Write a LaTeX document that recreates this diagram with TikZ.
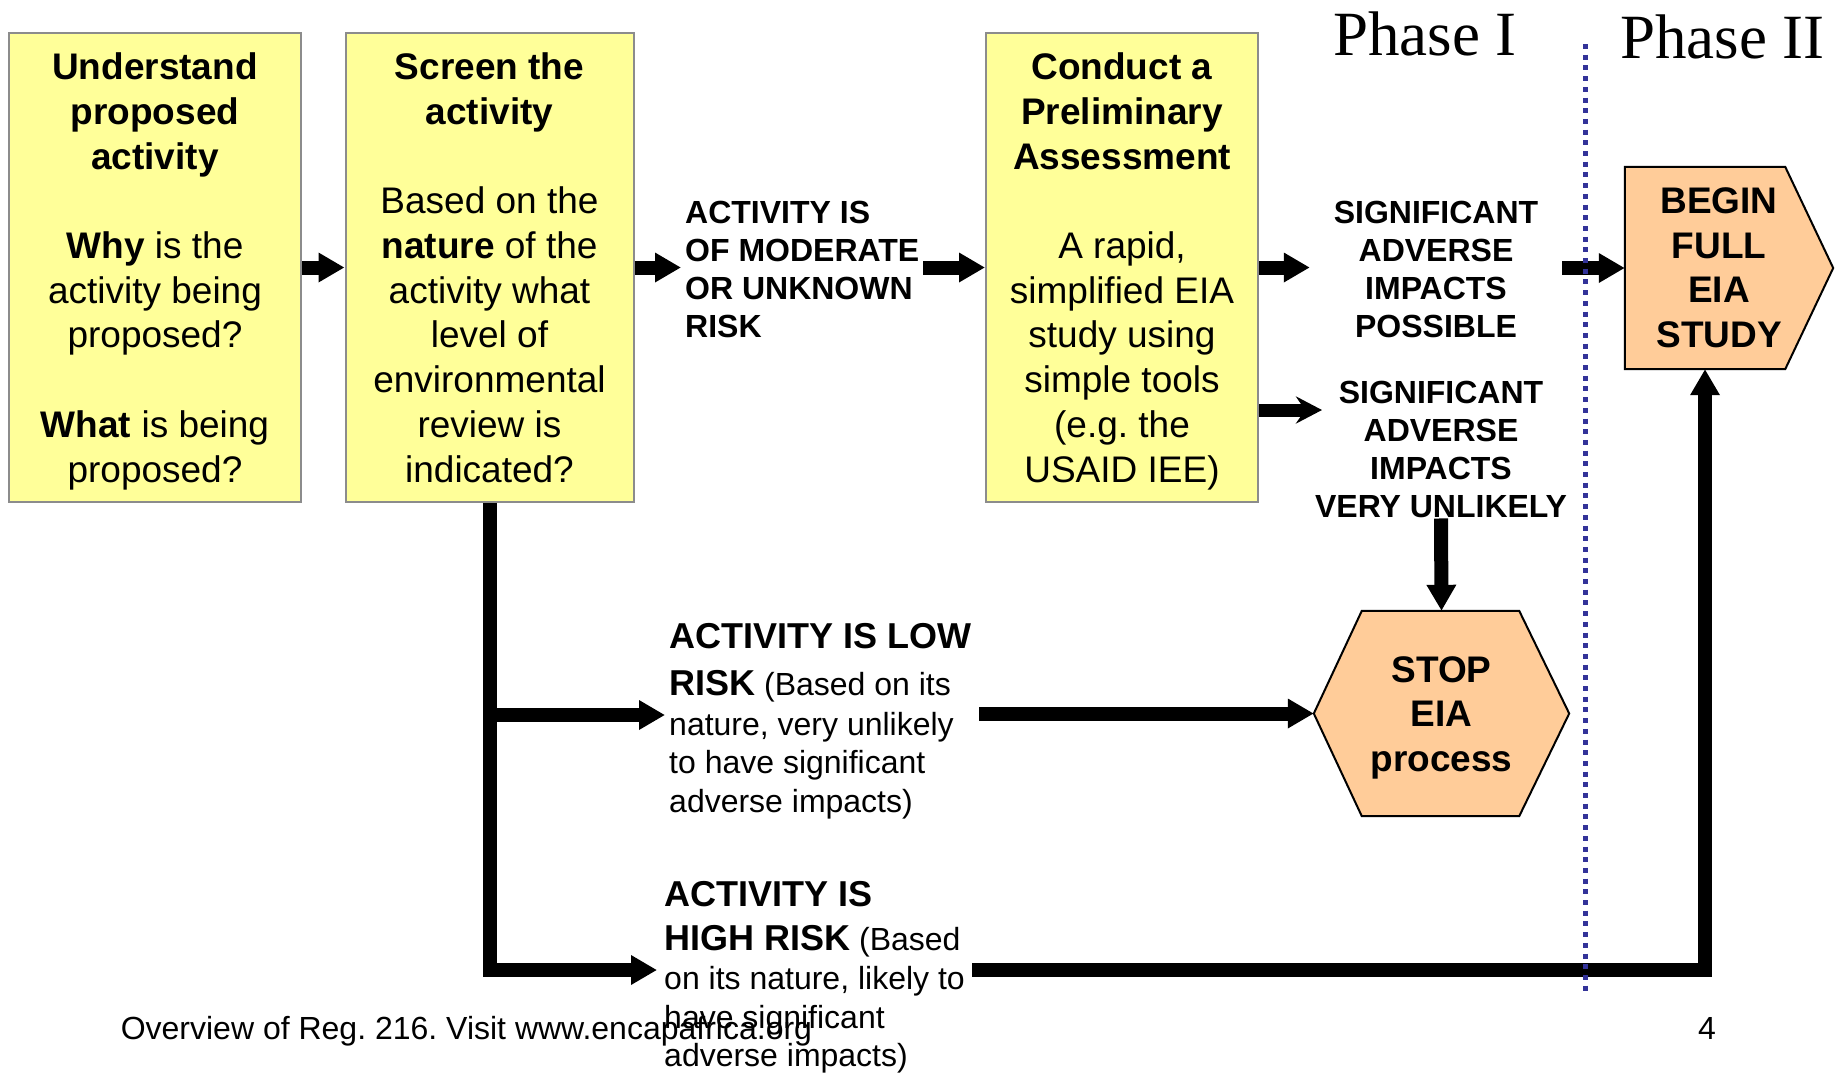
\documentclass[tikz,border=0pt]{standalone}
\usepackage{fontspec}
\setmainfont{Liberation Sans}
\newfontfamily\phasefont{Liberation Serif}
\usetikzlibrary{arrows.meta}
\definecolor{boxyellow}{HTML}{FFFF99}
\definecolor{boxgrey}{HTML}{8C8C8C}
\definecolor{peach}{HTML}{FFCC99}
\definecolor{phaseblue}{HTML}{333399}
\newcommand\setfs[2]{\fontsize{#1}{#2}\selectfont}
\newcommand\riskhead{\setfs{36}{38.5}\bfseries}
\frenchspacing

\begin{document}
\begin{tikzpicture}[x=1pt,y=-1pt,
  stepbox/.style={draw=boxgrey, line width=2pt, fill=boxyellow, inner sep=0pt,
    align=center, minimum height=469pt, text depth=0pt, font=\setfs{37}{44.7}},
  capsbold/.style={inner sep=0pt, font=\setfs{32}{38.3}\bfseries},
  bignote/.style={inner sep=0pt, align=left, anchor=north west, font=\setfs{32}{38.5}},
  shapelabel/.style={inner sep=0pt, align=center, font=\setfs{37}{44.5}\bfseries},
  peachshape/.style={fill=peach, draw=black, line width=2pt, line join=miter},
  fat/.style={line width=14pt, -{Triangle[length=26pt,width=28pt]}},
  slim/.style={line width=13pt, -{Stealth[length=26pt,width=27pt,inset=9pt]}},
  phase/.style={inner sep=0pt, anchor=base west, font=\phasefont\fontsize{63}{70}\selectfont},
  foot/.style={inner sep=0pt, anchor=base west, font=\setfs{32}{38}},
]
\useasboundingbox (0,0) rectangle (1836,1072);

% ---- the three yellow step boxes
\node[stepbox, minimum width=292pt] (understand) at (155,267.5)
  {\textbf{Understand}\\\textbf{proposed}\\\textbf{activity}\\[44.7pt]%
   \textbf{Why} is the\\activity being\\proposed?\\[44.7pt]%
   \textbf{What} is being\\proposed?};
\node[stepbox, minimum width=288pt] (screen) at (489.5,267.5)
  {\textbf{Screen the}\\\textbf{activity}\\[44.7pt]%
   Based on the\\\textbf{nature} of the\\activity what\\level of\\environmental\\review is\\indicated?};
\node[stepbox, minimum width=272pt] (assess) at (1122,267.5)
  {\textbf{Conduct a}\\\textbf{Preliminary}\\\textbf{Assessment}\\[44.7pt]%
   A rapid,\\simplified EIA\\study using\\simple tools\\(e.g. the\\USAID IEE)};

% ---- outcome shapes (pentagon and hexagon)
\node[minimum width=160pt, minimum height=202pt, inner sep=0pt] (begin) at (1705,268) {};
\filldraw[peachshape] (begin.north west) -- (begin.north east) -- ([xshift=48pt]begin.east)
  -- (begin.south east) -- (begin.south west) -- cycle;
\node[shapelabel] (begintext) at ([xshift=14pt]begin.center) {BEGIN\\FULL\\EIA\\STUDY};

\node[minimum width=255pt, minimum height=205pt, inner sep=0pt] (stop) at (1441.5,713.5) {};
\filldraw[peachshape] (stop.west) -- ([xshift=48pt]stop.north west) -- ([xshift=-50pt]stop.north east)
  -- (stop.east) -- ([xshift=-50pt]stop.south east) -- ([xshift=48pt]stop.south west) -- cycle;
\node[shapelabel] (stoptext) at ([yshift=-4pt]stop.center) {STOP\\EIA\\process};

% ---- labels
\node[capsbold, align=left, anchor=west, inner xsep=4pt] (mod) at (681,269.5)
  {ACTIVITY IS\\OF MODERATE\\OR UNKNOWN\\RISK};
\node[capsbold, align=center, minimum width=252pt] (sigpos) at (1436,269.5)
  {SIGNIFICANT\\ADVERSE\\IMPACTS\\POSSIBLE};
\node[capsbold, align=center] (sigunl) at (1441,449.5)
  {SIGNIFICANT\\ADVERSE\\IMPACTS\\VERY UNLIKELY};
\node[bignote] (low) at (669,622.7)
  {{\riskhead ACTIVITY IS LOW}\\[8.5pt]{\riskhead RISK} (Based on its\\[1.5pt]nature, very unlikely\\to have significant\\adverse impacts)};
\node[bignote] (high) at (664,881.2)
  {{\riskhead ACTIVITY IS}\\[5.5pt]{\riskhead HIGH RISK} (Based\\[0.5pt]on its nature, likely to\\have significant\\adverse impacts)};

\node[phase] (ph1) at (1333,55) {Phase I};
\node[phase] (ph2) at (1620,58.5) {Phase II};
\node[foot] (footl) at (120.6,1039) {Overview of Reg. 216. Visit www.encapafrica.org};
\node[foot] (pgno) at (1698,1039) {4};

% ---- connector ends
\coordinate (unlin) at (1322,410);
\coordinate (lowin) at (665,715);
\coordinate (lowout) at (979,713.5);
\coordinate (highin) at (657,970);
\coordinate (highout) at (972,970);
\coordinate (divtop) at (1585,44);
\coordinate (divbot) at (1585,995);

% ---- connectors
\draw[fat] (understand.east) -- (screen.west);
\draw[fat] (screen.east) -- (screen.east -| mod.west);
\draw[fat] (assess.west -| mod.east) -- (assess.west);
\draw[fat] (assess.east) -- (assess.east -| sigpos.west);
\draw[fat] (begin.west -| sigpos.east) -- (begin.west);
\draw[slim] (assess.east |- unlin) -- (unlin);
\draw[fat] (sigunl.south) -- (stop.north);
\draw[fat] (screen.south) |- (highin);
\draw[fat] (screen.south |- lowin) -- (lowin);
\draw[fat] (lowout) -- (stop.west);
\draw[fat] (highout) -| (begin.south);

% ---- phase divider
\draw[phaseblue, line width=5pt, dash pattern=on 5pt off 5.7pt] (divtop) -- (divbot);
\end{tikzpicture}
\end{document}
